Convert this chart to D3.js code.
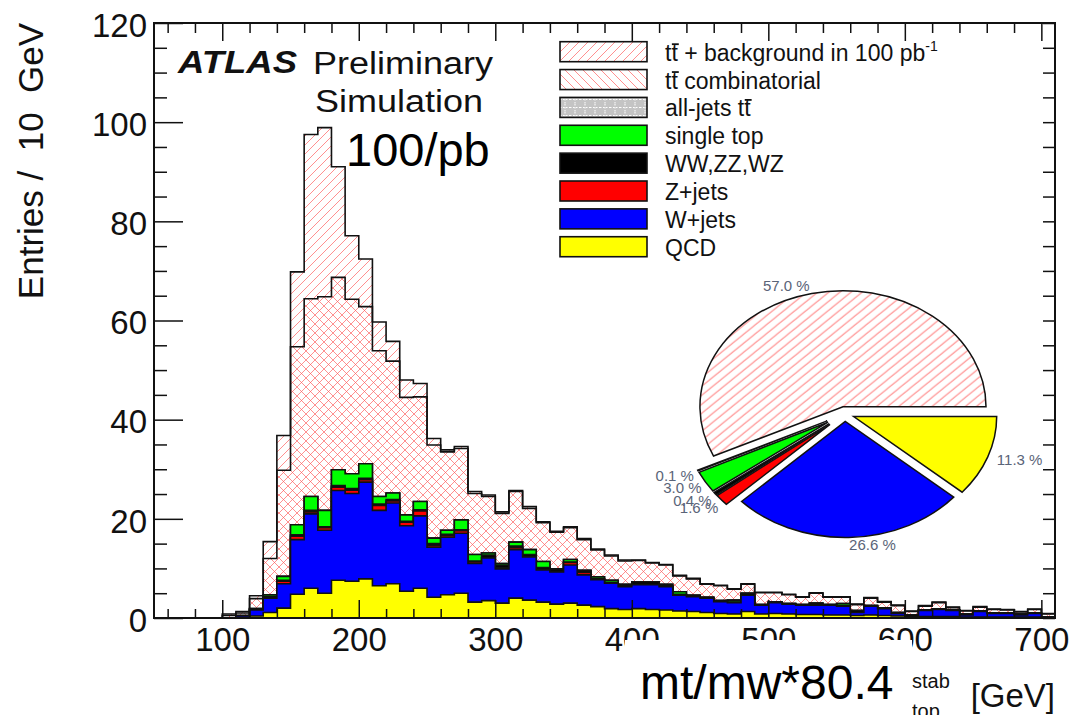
<!DOCTYPE html>
<html>
<head>
<meta charset="utf-8">
<script src="https://cdn.jsdelivr.net/npm/d3@7"></script>
<style>
  body { margin: 0; background: #fff; }
  svg { display: block; font-family: "Liberation Sans", Arial, Helvetica, sans-serif; }
</style>
</head>
<body>
<svg id="chart" width="1077" height="715"></svg>
<script>
// low edges of the 10 GeV bins
const binLow = [100, 110, 120, 130, 140, 150, 160, 170, 180, 190,
                200, 210, 220, 230, 240, 250, 260, 270, 280, 290,
                300, 310, 320, 330, 340, 350, 360, 370, 380, 390,
                400, 410, 420, 430, 440, 450, 460, 470, 480, 490,
                500, 510, 520, 530, 540, 550, 560, 570, 580, 590,
                600, 610, 620, 630, 640, 650, 660, 670, 680, 690,
                700]
const binWidth = 10

// entries per bin, one array per sample
const qcd = [0, 0, 0.4, 1.1, 2.0, 4.8, 6.0, 5.0, 7.6, 7.4,
             7.9, 6.5, 6.9, 5.4, 6.0, 4.2, 4.7, 5.0, 3.2, 3.5,
             3.0, 4.0, 3.6, 3.2, 2.8, 3.0, 2.6, 2.3, 1.9, 1.7,
             1.9, 1.7, 1.6, 1.4, 1.3, 1.1, 0.9, 0.8, 1.3, 0.8,
             0.9, 0.8, 0.7, 0.7, 0.6, 0.6, 0.5, 0.6, 0.5, 0.4,
             0.2, 0.3, 0.3, 0.3, 0.2, 0.2, 0.2, 0.2, 0.2, 0.2,
             0.1]
const wjets = [0, 0.4, 1.2, 2.9, 4.9, 11.0, 15.0, 12.7, 18.1, 17.7,
               19.5, 15.2, 16.3, 13.2, 14.6, 10.1, 11.6, 12.1, 7.8, 8.6,
               6.9, 9.8, 8.7, 6.5, 6.5, 7.7, 6.1, 5.4, 5.1, 4.6,
               4.8, 5.0, 4.7, 3.2, 3.0, 2.9, 2.4, 2.3, 3.3, 1.8,
               2.2, 2.0, 1.9, 1.9, 2.0, 1.8, 0.6, 1.8, 1.4, 0.5,
               0.1, 1.2, 1.4, 1.2, 0.4, 1.1, 0.7, 0.7, 0.4, 0.7,
               0.0]
const zjets = [0, 0, 0.1, 0.2, 0.5, 0.7, 0.4, 0.5, 0.7, 0.7,
               0.5, 1.0, 0.4, 0.7, 1.0, 0.4, 0.3, 0.5, 0.3, 0.1,
               0.3, 0.4, 0.1, 0.1, 0.1, 0.5, 0.5, 0.1, 0.1, 0.1,
               0.1, 0.1, 0.1, 0.1, 0.1, 0, 0, 0, 0, 0,
               0, 0, 0, 0, 0, 0, 0, 0, 0, 0,
               0, 0, 0, 0, 0, 0, 0, 0, 0, 0,
               0]
const diboson = [0, 0.1, 0.1, 0.2, 0.2, 0.3, 0.3, 0.2, 0.3, 0.3,
                 0.3, 0.3, 0.3, 0.2, 0.2, 0.3, 0.3, 0.2, 0.2, 0.5,
                 0.5, 0.3, 0.4, 0.4, 0.4, 0.1, 0.3, 0.1, 0.1, 0.1,
                 0.5, 0.5, 0.1, 0.1, 0.2, 0.2, 0.2, 0.1, 0.4, 0.1,
                 0.1, 0.1, 0.1, 0.1, 0.1, 0.1, 0.4, 0.1, 0.1, 0.2,
                 0.3, 0.1, 0.1, 0.1, 0.2, 0.1, 0.1, 0.1, 0.2, 0.1,
                 0.1]
const singleTop = [0, 0, 0.1, 0.3, 0.8, 2.0, 2.8, 3.3, 3.2, 3.0,
                   2.9, 1.5, 1.3, 1.3, 1.7, 1.1, 0.8, 2.0, 1.3, 0.4,
                   0.3, 0.8, 1.0, 1.2, 0.1, 0.5, 0.1, 0.4, 0.4, 0.3,
                   0, 0, 0.3, 0.5, 0, 0, 0, 0.4, 0, 0,
                   0, 0, 0, 0.3, 0, 0.4, 0, 0, 0, 0,
                   0, 0, 0, 0, 0, 0, 0, 0, 0, 0,
                   0]
const allJets = [0, 0, 0, 0, 0, 0, 0, 0, 0, 0,
                 0, 0, 0, 0, 0, 0, 0, 0, 0, 0,
                 0, 0, 0, 0, 0, 0, 0, 0, 0, 0,
                 0, 0, 0, 0, 0, 0, 0, 0, 0, 0,
                 0, 0, 0, 0, 0, 0, 0, 0, 0, 0,
                 0, 0, 0, 0, 0, 0, 0, 0, 0, 0,
                 0]
const ttComb = [0.5, 0.5, 2.0, 7.3, 21.4, 35.9, 39.9, 43.1, 38.8, 35.2,
                31.7, 29.4, 26.6, 23.7, 21.1, 18.8, 15.8, 14.4, 12.3, 11.4,
                10.1, 10.2, 8.3, 7.8, 7.4, 6.4, 6.2, 5.4, 4.9, 4.7,
                4.3, 3.8, 3.9, 3.2, 3.3, 2.6, 3.0, 2.2, 1.8, 2.4,
                1.9, 1.8, 1.5, 2.0, 1.5, 1.3, 1.2, 1.5, 1.2, 1.4,
                0.7, 0.8, 1.3, 0.5, 0.6, 0.8, 0.7, 0.6, 0.4, 0.7,
                0.6]
const ttSignal = [0.3, 0.3, 0.6, 3.4, 7.0, 15.1, 33.1, 34.1, 22.3, 12.8,
                  9.6, 5.8, 4.0, 3.5, 2.7, 1.3, 0.4, 0.4, 0.4, 0.3,
                  0.3, 0.2, 0.4, 0.2, 0.2, 0.2, 0.2, 0.2, 0.2, 0.2,
                  0.1, 0.1, 0.1, 0.1, 0.1, 0.1, 0.1, 0.1, 0.1, 0.1,
                  0.1, 0.1, 0.1, 0.1, 0.1, 0.1, 0.1, 0.1, 0.1, 0.1,
                  0.1, 0.1, 0.1, 0.1, 0.1, 0.1, 0.1, 0.1, 0.1, 0.1,
                  0.1]

// stacking order, bottom to top
const stackKeys = ['qcd', 'wjets', 'zjets', 'diboson', 'singleTop', 'allJets', 'ttComb', 'ttSignal']

const legendLabels = ['tt + background in 100 pb', 'tt combinatorial', 'all-jets tt', 'single top',
                      'WW,ZZ,WZ', 'Z+jets', 'W+jets', 'QCD']
const legendKeys = ['ttSignal', 'ttComb', 'allJets', 'singleTop', 'diboson', 'zjets', 'wjets', 'qcd']
const legendBar = [1, 1, 10, -1, -1, -1, -1, -1]   // char index carrying the anti-top bar

const pieLabels = ['tt', 'all-jets', 'single top', 'WW,ZZ,WZ', 'Z+jets', 'W+jets', 'QCD']
const pieValues = [57.0, 0.1, 3.0, 0.4, 1.6, 26.6, 11.3]

const xTicks = [100, 200, 300, 400, 500, 600, 700]
const yTicks = [0, 20, 40, 60, 80, 100, 120]

const frame = { left: 154, right: 1055, top: 23, bottom: 618 }
const ink = '#111'

const svg = d3.select('#chart')
const x = d3.scaleLinear().domain([50, 710]).range([frame.left, frame.right])
const y = d3.scaleLinear().domain([0, 120]).range([frame.bottom, frame.top])

// ---- patterns
const defs = svg.append('defs')
function hatch(id, d) {
    defs.append('pattern').attr('id', id)
        .attr('patternUnits', 'userSpaceOnUse').attr('width', 9).attr('height', 9)
        .append('path').attr('d', d)
        .attr('fill', 'none').attr('stroke', '#ff5a5a')
        .attr('stroke-width', 0.9).attr('stroke-opacity', 0.75)
}
hatch('fwd', 'M0,9L9,0M-1,1L1,-1M8,10L10,8')
hatch('back', 'M0,0L9,9M-1,8L1,10M8,-1L10,1')

const dots = defs.append('pattern').attr('id', 'dots')
    .attr('patternUnits', 'userSpaceOnUse').attr('width', 10).attr('height', 8)
dots.append('rect').attr('width', 10).attr('height', 8).attr('fill', '#c4c4c4')
dots.append('path').attr('d', 'M0,3.5H10M5,0V8')
    .attr('stroke', '#fff').attr('stroke-width', 1).attr('stroke-dasharray', '1.5,1.5')

const fills = {
    ttSignal: 'url(#fwd)', ttComb: 'url(#back)', allJets: 'url(#dots)',
    singleTop: '#00ff00', diboson: '#000000', zjets: '#ff0000', wjets: '#0000ff', qcd: '#ffff00'
}

// ---- stacked histogram
const series = { qcd, wjets, zjets, diboson, singleTop, allJets, ttComb, ttSignal }
const rows = binLow.map((lo, i) => {
    let r = { lo: lo }
    stackKeys.forEach(k => { r[k] = series[k][i] })
    return r
})
const layers = d3.stack().keys(stackKeys)(rows)

const area = d3.area().curve(d3.curveStepAfter)
    .x(d => x(d[0])).y0(y(0)).y1(d => y(d[1]))
const outline = d3.line().curve(d3.curveStepAfter)
    .x(d => x(d[0])).y(d => y(d[1]))

const hist = svg.append('g')
layers.slice().reverse().forEach(layer => {
    let pts = layer.map(d => [d.data.lo, d[1]])
    let end = binLow[binLow.length - 1] + binWidth
    pts.push([end, layer[layer.length - 1][1]])
    hist.append('path').attr('d', area(pts)).attr('fill', fills[layer.key])
    hist.append('path')
        .attr('d', outline([[binLow[0], 0]].concat(pts, [[end, 0]])))
        .attr('fill', 'none').attr('stroke', ink).attr('stroke-width', 1.6)
})

// ---- axes (ROOT style: ticks inside, on all four sides)
function ticks(gen, tr, vals, size, withLabels) {
    let g = svg.append('g').attr('transform', tr)
        .call(gen.tickValues(vals).tickSize(size).tickSizeOuter(0)
            .tickFormat(withLabels ? d3.format('d') : () => ''))
    g.select('.domain').remove()
    g.selectAll('line').attr('stroke', ink).attr('stroke-width', 1.5)
    g.selectAll('text').attr('fill', ink).attr('font-size', 33)
        .attr('font-family', '"Liberation Sans", Arial, sans-serif')
    return g
}
const xMinor = d3.range(60, 701, 20).filter(v => v % 100 !== 0)
const yMinor = d3.range(0, 121, 5).filter(v => v % 20 !== 0)

ticks(d3.axisBottom(x).tickPadding(10), `translate(0,${frame.bottom})`, xTicks, -18, true)
ticks(d3.axisBottom(x), `translate(0,${frame.bottom})`, xMinor, -9, false)
ticks(d3.axisTop(x), `translate(0,${frame.top})`, xTicks, -18, false)
ticks(d3.axisTop(x), `translate(0,${frame.top})`, xMinor, -10, false)
ticks(d3.axisLeft(y).tickPadding(7), `translate(${frame.left},0)`, yTicks, -29, true)
    .selectAll('text').attr('dy', '0.4em')
ticks(d3.axisLeft(y), `translate(${frame.left},0)`, yMinor, -13, false)
ticks(d3.axisRight(y), `translate(${frame.right},0)`, yTicks.concat(yMinor), -12, false)

svg.append('rect')
    .attr('x', frame.left).attr('y', frame.top)
    .attr('width', frame.right - frame.left).attr('height', frame.bottom - frame.top)
    .attr('fill', 'none').attr('stroke', ink).attr('stroke-width', 2)

// y title
svg.append('text')
    .attr('transform', 'translate(43,161) rotate(-90)')
    .attr('text-anchor', 'middle').attr('font-size', 35).attr('fill', ink)
    .style('white-space', 'pre')
    .text('Entries /  10  GeV')

// what is left visible of the original x title
svg.append('text').attr('x', 912).attr('y', 688).attr('font-size', 20).attr('fill', ink).text('stab')
svg.append('text').attr('x', 912).attr('y', 718).attr('font-size', 20).attr('fill', ink).text('top')
svg.append('text').attr('x', frame.right).attr('y', 707).attr('text-anchor', 'end')
    .attr('font-size', 33).attr('fill', ink).text('[GeV]')

// white sticker with the overwritten title
svg.append('rect').attr('x', 625).attr('y', 640).attr('width', 287).attr('height', 80).attr('fill', '#fff')
svg.append('text').attr('x', 640).attr('y', 699).attr('font-size', 48).attr('fill', '#000')
    .text('mt/mw*80.4')

// ATLAS label
svg.append('text').attr('x', 178).attr('y', 73).attr('font-size', 31)
    .attr('font-weight', 'bold').attr('font-style', 'italic').attr('fill', ink)
    .attr('textLength', 119).attr('lengthAdjust', 'spacingAndGlyphs').text('ATLAS')
svg.append('text').attr('x', 313).attr('y', 74).attr('font-size', 31).attr('fill', ink)
    .attr('textLength', 180).attr('lengthAdjust', 'spacingAndGlyphs').text('Preliminary')
svg.append('text').attr('x', 315).attr('y', 112).attr('font-size', 31).attr('fill', ink)
    .attr('textLength', 168).attr('lengthAdjust', 'spacingAndGlyphs').text('Simulation')
svg.append('text').attr('x', 346).attr('y', 166).attr('font-size', 47).attr('fill', '#000')
    .text('100/pb')

// ---- legend
const legend = { x: 560, top: 41.7, step: 27.86, w: 87, h: 20, textX: 665 }
legendLabels.forEach((lab, i) => {
    let top = legend.top + i * legend.step
    svg.append('rect').attr('x', legend.x).attr('y', top)
        .attr('width', legend.w).attr('height', legend.h)
        .attr('fill', fills[legendKeys[i]]).attr('stroke', ink).attr('stroke-width', 1.6)
    let base = top + legend.h / 2 + 9
    let t = svg.append('text').attr('x', legend.textX).attr('y', base)
        .attr('font-size', 23).attr('fill', ink).text(lab)
    if (i === 0) {
        t.append('tspan').attr('font-size', 14).attr('dy', -10).text('-1')
    }
    if (legendBar[i] >= 0) {
        let ext = t.node().getExtentOfChar(legendBar[i])
        svg.append('line')
            .attr('x1', ext.x + 0.5).attr('x2', ext.x + ext.width + 1)
            .attr('y1', base - 16.5).attr('y2', base - 16.5)
            .attr('stroke', ink).attr('stroke-width', 1.8)
    }
})

// ---- pie of sample fractions
const pieCx = 845, pieCy = 414, pieR = 116, pieSx = 1.233
const pieFills = ['url(#fwd)', 'url(#dots)', '#00ff00', '#000000', '#ff0000', '#0000ff', '#ffff00']
const pieG = svg.append('g').attr('transform', `translate(${pieCx},${pieCy})`)
const pie = d3.pie().sort(null).startAngle(Math.PI / 2).endAngle(Math.PI / 2 - 2 * Math.PI)
const arc = d3.arc().innerRadius(0).outerRadius(pieR)

pie(pieValues).forEach((s, i) => {
    let mid = (s.startAngle + s.endAngle) / 2
    let small = pieValues[i] < 5
    let off = small ? 16 : 7.5
    let dx = Math.sin(mid) * off * pieSx
    let dy = -Math.cos(mid) * off
    pieG.append('path')
        .attr('transform', `translate(${dx},${dy}) scale(${pieSx},1)`)
        .attr('d', arc(s))
        .attr('fill', pieFills[i])
        .attr('stroke', ink).attr('stroke-width', 1.5)
        .attr('vector-effect', 'non-scaling-stroke')

    let lr = pieR * 1.1
    let lx = Math.sin(mid) * lr * pieSx + dx * 0.5
    let ly = -Math.cos(mid) * lr + (small ? dy : dy * 0.5)
    pieG.append('text')
        .attr('x', lx).attr('y', ly + 5)
        .attr('text-anchor', Math.sin(mid) >= 0 ? 'start' : 'end')
        .attr('font-size', 15).attr('fill', '#5a6478')
        .text(pieValues[i].toFixed(1) + ' %')
})
</script>
</body>
</html>
